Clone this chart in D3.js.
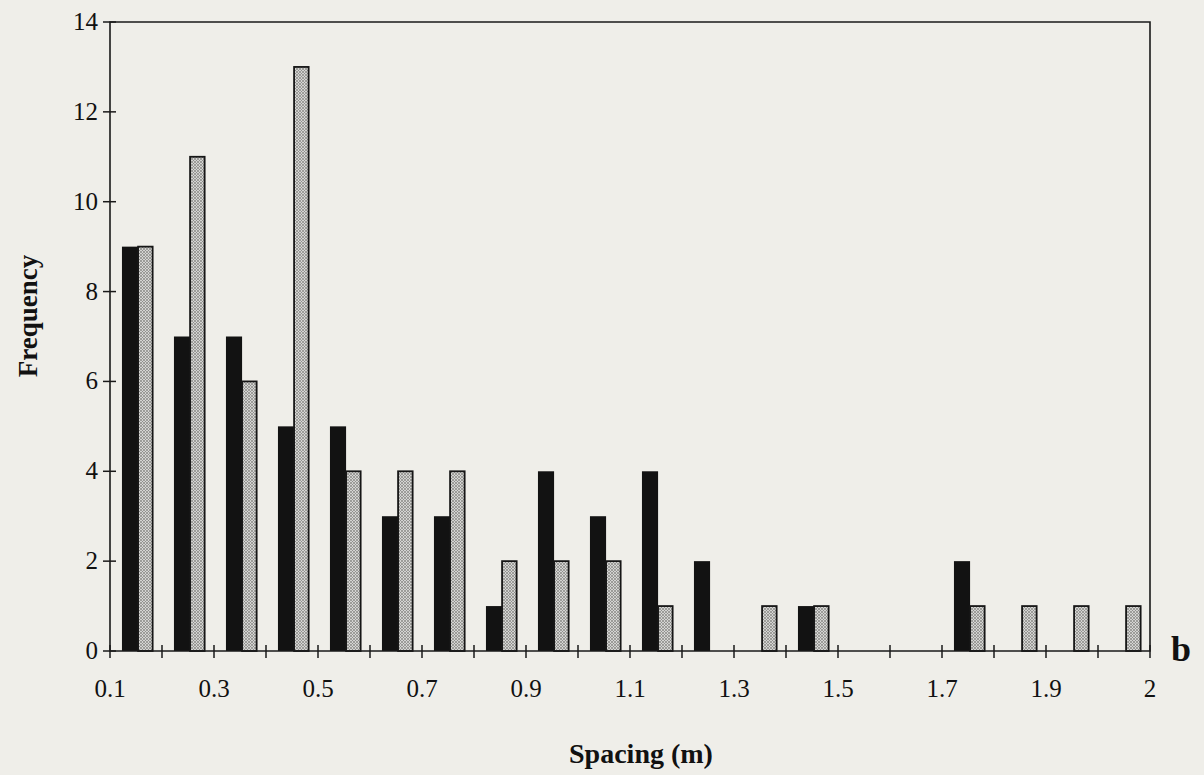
<!DOCTYPE html>
<html>
<head>
<meta charset="utf-8">
<script src="https://cdn.jsdelivr.net/npm/d3@7"></script>
<style>
  html, body { margin: 0; padding: 0; background: #efeee9; }
  svg { display: block; }
  text { font-family: "Liberation Serif", "Times New Roman", serif; fill: #111; }
</style>
</head>
<body>
<script>
// Data (bins of spacing, frequency counts)
const categories = ["0.1","0.2","0.3","0.4","0.5","0.6","0.7","0.8","0.9","1.0",
                    "1.1","1.2","1.3","1.4","1.5","1.6","1.7","1.8","1.9","2.0"];
const seriesBlack = [9, 7, 7, 5, 5, 3, 3, 1, 4, 3, 4, 2, 0, 1, 0, 0, 2, 0, 0, 0];
const seriesGray  = [9, 11, 6, 13, 4, 4, 4, 2, 2, 2, 1, 0, 1, 1, 0, 0, 1, 1, 1, 1];
const xTickLabels = ["0.1","0.3","0.5","0.7","0.9","1.1","1.3","1.5","1.7","1.9","2"];
const xTickIndex  = [0, 2, 4, 6, 8, 10, 12, 14, 16, 18, 20];
const yTicks = [0, 2, 4, 6, 8, 10, 12, 14];

(function () {
const W = 1204, H = 775;
const mLeft = 110, mRight = 1150, mTop = 22, mBottom = 651;

const svg = d3.select("body").append("svg").attr("width", W).attr("height", H);
svg.append("rect").attr("width", W).attr("height", H).attr("fill", "#efeee9");

const defs = svg.append("defs");
const pat = defs.append("pattern").attr("id", "hatch")
  .attr("patternUnits", "userSpaceOnUse").attr("width", 3).attr("height", 3);
pat.append("rect").attr("width", 3).attr("height", 3).attr("fill", "#d4d4d2");
pat.append("path").attr("d", "M0,0 L3,3 M3,0 L0,3").attr("stroke", "#858583").attr("stroke-width", 0.7);

const x = d3.scaleBand().domain(categories).range([mLeft, mRight]).padding(0);
const y = d3.scaleLinear().domain([0, 14]).range([mBottom, mTop]);
const bw = x.bandwidth();
const xPos = d3.scaleLinear().domain([0, categories.length]).range([mLeft, mRight]);

// Bars
svg.append("g").selectAll("rect").data(categories).join("rect")
  .attr("x", d => x(d) + 0.23 * bw)
  .attr("width", 0.31 * bw)
  .attr("y", (d, i) => y(seriesBlack[i]))
  .attr("height", (d, i) => y(0) - y(seriesBlack[i]))
  .attr("fill", "#121212")
  .attr("display", (d, i) => seriesBlack[i] > 0 ? null : "none");

svg.append("g").selectAll("rect").data(categories).join("rect")
  .attr("x", d => x(d) + 0.54 * bw)
  .attr("width", 0.28 * bw)
  .attr("y", (d, i) => y(seriesGray[i]))
  .attr("height", (d, i) => y(0) - y(seriesGray[i]))
  .attr("fill", "url(#hatch)")
  .attr("stroke", "#161616").attr("stroke-width", 1.8)
  .attr("display", (d, i) => seriesGray[i] > 0 ? null : "none");

// Frame
svg.append("path")
  .attr("d", `M${mLeft},${mBottom} L${mLeft},${mTop} L${mRight},${mTop} L${mRight},${mBottom} Z`)
  .attr("fill", "none").attr("stroke", "#1a1a1a").attr("stroke-width", 1.6);

// X ticks (between categories, crossing axis)
const xt = svg.append("g");
xt.selectAll("line").data(d3.range(categories.length + 1)).join("line")
  .attr("x1", i => xPos(i)).attr("x2", i => xPos(i))
  .attr("y1", mBottom - 6).attr("y2", mBottom + 7)
  .attr("stroke", "#1a1a1a").attr("stroke-width", 1.5);
xt.selectAll("text").data(xTickLabels).join("text")
  .attr("x", (d, i) => xPos(xTickIndex[i]))
  .attr("y", mBottom + 46)
  .attr("text-anchor", "middle")
  .attr("font-size", 25)
  .text(d => d);

// Y ticks
const yt = svg.append("g");
yt.selectAll("line").data(yTicks).join("line")
  .attr("x1", mLeft - 7).attr("x2", mLeft + 6)
  .attr("y1", d => y(d)).attr("y2", d => y(d))
  .attr("stroke", "#1a1a1a").attr("stroke-width", 1.5);
yt.selectAll("text").data(yTicks).join("text")
  .attr("x", mLeft - 12)
  .attr("y", d => y(d) + 8)
  .attr("text-anchor", "end")
  .attr("font-size", 25)
  .text(d => d);

// Axis titles
svg.append("text")
  .attr("x", 641).attr("y", 763)
  .attr("text-anchor", "middle")
  .attr("font-size", 28).attr("font-weight", "bold")
  .text("Spacing (m)");

svg.append("text")
  .attr("transform", "translate(37,316) rotate(-90)")
  .attr("text-anchor", "middle")
  .attr("font-size", 27).attr("font-weight", "bold")
  .text("Frequency");

svg.append("text")
  .attr("x", 1171).attr("y", 661)
  .attr("font-size", 36).attr("font-weight", "bold")
  .text("b");
})();
</script>
</body>
</html>
